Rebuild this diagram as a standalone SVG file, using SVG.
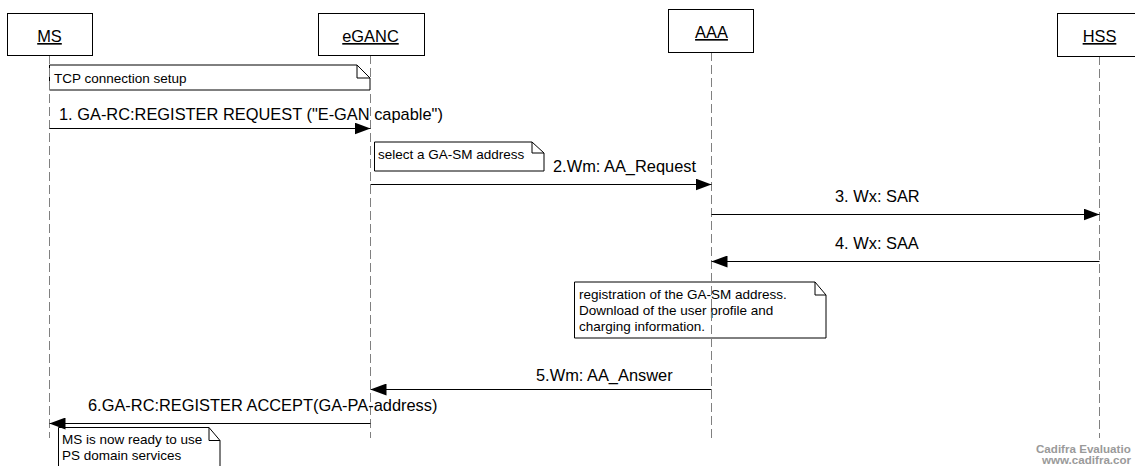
<svg xmlns="http://www.w3.org/2000/svg" width="1135" height="466" viewBox="0 0 1135 466">
<style>
.box{fill:#fff;stroke:#000;stroke-width:1}
.life{stroke:#808080;stroke-width:1;stroke-dasharray:9,4;fill:none}
.note{fill:#fff;stroke:#000;stroke-width:1}
.fold{fill:none;stroke:#000;stroke-width:1}
.msg{stroke:#000;stroke-width:1;fill:none;marker-end:url(#ah)}
.lbl{font-family:"Liberation Sans",Arial,sans-serif;font-size:16.4px;fill:#000}
.obj{font-family:"Liberation Sans",Arial,sans-serif;font-size:16.4px;fill:#000;text-anchor:middle;text-decoration:underline}
.nt{font-family:"Liberation Sans",Arial,sans-serif;font-size:13.5px;fill:#000}
.wm{font-family:"Liberation Sans",Arial,sans-serif;font-size:11.6px;font-weight:bold;fill:#9a9a9a}
</style>
<defs>
<marker id="ah" markerUnits="userSpaceOnUse" markerWidth="16" markerHeight="12" refX="16" refY="6" orient="auto">
<path d="M0,0 L16,6 L0,12 Z" fill="#000"/>
</marker>
</defs>

<g id="notes">
<g id="note-tcp">
<path class="note" d="M49.5,65 H357 L370,78 V90 H49.5 Z"/>
<path class="fold" d="M357,65 V78 H370"/>
<text class="nt" x="54" y="83">TCP connection setup</text>
</g>
<g id="note-select">
<path class="note" d="M374.5,142 H532 L544,153 V171 H374.5 Z"/>
<path class="fold" d="M532,142 V153 H544"/>
<text class="nt" x="378" y="159">select a GA-SM address</text>
</g>
<g id="note-registration">
<path class="note" d="M574.5,282 H815 L826,295 V338 H574.5 Z"/>
<path class="fold" d="M815,282 V295 H826"/>
<text class="nt" x="579" y="299">registration of the GA-SM address.</text>
<text class="nt" x="579" y="315">Download of the user profile and</text>
<text class="nt" x="579" y="330.5">charging information.</text>
</g>
<g id="note-ready">
<path class="note" d="M58.5,427.5 H209 L220,440.5 V470 H58.5 Z"/>
<path class="fold" d="M209,427.5 V440.5 H220"/>
<text class="nt" x="62" y="444">MS is now ready to use</text>
<text class="nt" x="62" y="459.5">PS domain services</text>
</g>
</g>

<g id="lifelines">
<line class="life" x1="49.5" y1="55" x2="49.5" y2="438"/>
<line class="life" x1="370.5" y1="55" x2="370.5" y2="438"/>
<line class="life" x1="711.5" y1="52" x2="711.5" y2="438"/>
<line class="life" x1="1099.5" y1="56" x2="1099.5" y2="438"/>
</g>

<g id="MS">
<rect class="box" x="7.5" y="13.5" width="85" height="42"/>
<text class="obj" x="49.5" y="42">MS</text>
</g>
<g id="eGANC">
<rect class="box" x="318.5" y="13.5" width="106" height="42"/>
<text class="obj" x="370.5" y="42">eGANC</text>
</g>
<g id="AAA">
<rect class="box" x="668.5" y="9.5" width="85" height="43"/>
<text class="obj" x="711.5" y="38">AAA</text>
</g>
<g id="HSS">
<rect class="box" x="1057.5" y="13.5" width="85" height="43"/>
<text class="obj" x="1099.5" y="42">HSS</text>
</g>

<g id="connectors">
<line class="msg" x1="49.5" y1="128.5" x2="370.5" y2="128.5"/>
<text class="lbl" x="59" y="120">1. GA-RC:REGISTER REQUEST ("E-GAN capable")</text>
<line class="msg" x1="370.5" y1="184.5" x2="711.5" y2="184.5"/>
<text class="lbl" x="553" y="172">2.Wm: AA_Request</text>
<line class="msg" x1="711.5" y1="214.5" x2="1099.5" y2="214.5"/>
<text class="lbl" x="835" y="202">3. Wx: SAR</text>
<line class="msg" x1="1099.5" y1="261.5" x2="711.5" y2="261.5"/>
<text class="lbl" x="835" y="249">4. Wx: SAA</text>
<line class="msg" x1="711.5" y1="389.5" x2="370.5" y2="389.5"/>
<text class="lbl" x="536" y="381">5.Wm: AA_Answer</text>
<line class="msg" x1="370.5" y1="423.5" x2="49.5" y2="423.5"/>
<text class="lbl" x="88" y="411">6.GA-RC:REGISTER ACCEPT(GA-PA-address)</text>
</g>

<g id="watermark">
<text class="wm" x="1036" y="453">Cadifra Evaluatio</text>
<text class="wm" x="1042" y="464">www.cadifra.cor</text>
</g>
</svg>
